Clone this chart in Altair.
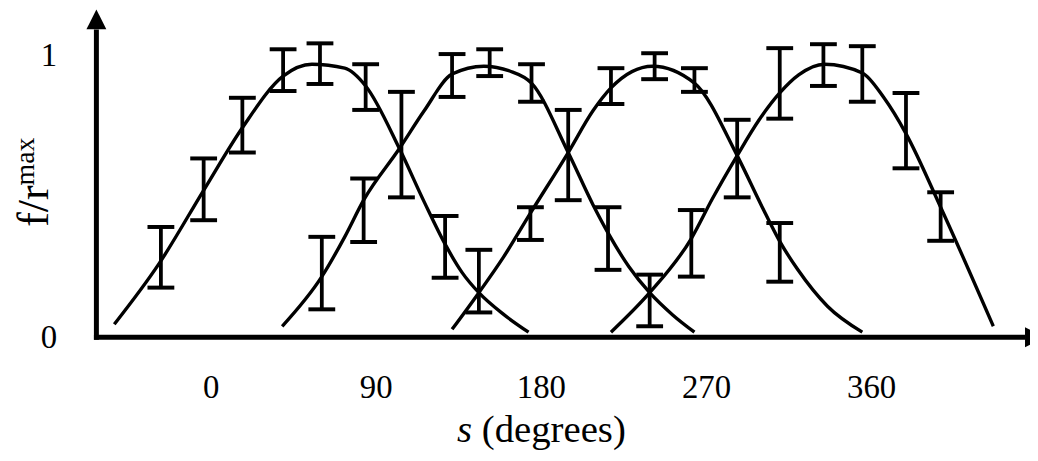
import altair as alt
import pandas as pd

# ---- tuning curves (s in degrees, f / r_max) ----
c1_s = [-52.5, -28.2, -3.8, 17.3, 39.5, 55.2, 73.1, 84.5, 102.9, 116.4, 127.8, 137.0, 146.2, 159.7, 173.3]
c1_r = [0.046, 0.260, 0.521, 0.743, 0.926, 0.968, 0.954, 0.891, 0.669, 0.480, 0.330, 0.230, 0.158, 0.081, 0.018]

c2_s = [39.0, 60.6, 73.1, 83.4, 102.9, 116.4, 131.6, 148.9, 163.0, 174.9, 194.9, 208.4, 216.6, 228.0, 239.3, 251.7, 263.7]
c2_r = [0.039, 0.215, 0.356, 0.486, 0.669, 0.803, 0.933, 0.961, 0.944, 0.901, 0.655, 0.470, 0.370, 0.250, 0.158, 0.080, 0.018]

c3_s = [131.6, 146.2, 159.7, 174.3, 194.9, 208.4, 218.2, 240.9, 263.7, 287.0, 300.0, 310.2, 320.0, 336.2, 355.2]
c3_r = [0.028, 0.158, 0.285, 0.440, 0.655, 0.803, 0.884, 0.961, 0.901, 0.644, 0.470, 0.340, 0.240, 0.110, 0.018]

c4_s = [218.2, 239.3, 262.0, 273.4, 287.0, 298.9, 310.2, 320.5, 334.6, 355.2, 367.0, 379.0, 397.9, 426.6]
c4_r = [0.018, 0.158, 0.350, 0.490, 0.644, 0.770, 0.866, 0.930, 0.968, 0.937, 0.849, 0.722, 0.461, 0.039]

# ---- error bars (s, low, high) ----
eb_s = [-27.1, -3.8, 17.3, 39.5, 59.6, 84.5, 104.0, 127.8, 146.2,
        60.6, 83.4, 131.6, 152.1, 174.9, 194.9, 216.6, 239.3,
        174.3, 218.2, 242.0, 263.7, 287.0, 310.2,
        262.0, 310.2, 334.0, 355.2, 379.0, 397.9]
eb_hi = [0.391, 0.634, 0.849, 1.021, 1.042, 0.968, 0.870, 0.430, 0.310,
         0.356, 0.563, 1.004, 1.021, 0.968, 0.806, 0.461, 0.222,
         0.461, 0.954, 1.007, 0.954, 0.771, 0.405,
         0.451, 1.025, 1.039, 1.032, 0.866, 0.514]
eb_lo = [0.176, 0.415, 0.655, 0.873, 0.898, 0.806, 0.496, 0.211, 0.088,
         0.099, 0.338, 0.852, 0.926, 0.835, 0.486, 0.239, 0.039,
         0.345, 0.827, 0.915, 0.870, 0.496, 0.197,
         0.215, 0.775, 0.891, 0.835, 0.599, 0.342]

x_ticks = [0, 90, 180, 270, 360]
y_ticks = [0, 1]
x_title_var = "s"
x_title_rest = "(degrees)"
y_title_main = "f/r"
y_title_sup = "max"

# axis frame (data units)
X_LEFT = -62.26
X_RIGHT = 446.6
Y_TOP = 1.162
FONT = "Liberation Serif"
INK = "#000000"

curves = pd.concat([
    pd.DataFrame({"s": c1_s, "r": c1_r, "curve": "c1"}),
    pd.DataFrame({"s": c2_s, "r": c2_r, "curve": "c2"}),
    pd.DataFrame({"s": c3_s, "r": c3_r, "curve": "c3"}),
    pd.DataFrame({"s": c4_s, "r": c4_r, "curve": "c4"}),
], ignore_index=True)
bars = pd.DataFrame({"s": eb_s, "lo": eb_lo, "hi": eb_hi})

xs = alt.Scale(domain=[X_LEFT, X_RIGHT], nice=False, zero=False)
ys = alt.Scale(domain=[0, Y_TOP], nice=False, zero=False)

x_axis = alt.Axis(values=x_ticks, domain=False, ticks=False, grid=False, title=None,
                  labelFont=FONT, labelFontSize=33, labelColor=INK, labelPadding=35,
                  labelFlush=False, format="d")
y_axis = alt.Axis(values=y_ticks, domain=False, ticks=False, grid=False, title=None,
                  labelFont=FONT, labelFontSize=33, labelColor=INK, labelPadding=40,
                  format="d")

lines = alt.Chart(curves).mark_line(color=INK, strokeWidth=3.4, interpolate="monotone").encode(
    x=alt.X("s:Q", scale=xs, axis=x_axis),
    y=alt.Y("r:Q", scale=ys, axis=y_axis),
    detail="curve:N",
)

stems = alt.Chart(bars).mark_rule(color=INK, strokeWidth=3.8).encode(
    x=alt.X("s:Q", scale=xs), y=alt.Y("lo:Q", scale=ys), y2="hi:Q")
caps_hi = alt.Chart(bars).mark_tick(color=INK, orient="horizontal", size=27, thickness=4, opacity=1).encode(
    x=alt.X("s:Q", scale=xs), y=alt.Y("hi:Q", scale=ys))
caps_lo = alt.Chart(bars).mark_tick(color=INK, orient="horizontal", size=27, thickness=4, opacity=1).encode(
    x=alt.X("s:Q", scale=xs), y=alt.Y("lo:Q", scale=ys))

# axis lines with arrowheads
yline = alt.Chart(pd.DataFrame({"s": [X_LEFT], "a": [-0.009], "b": [1.0915]})).mark_rule(
    color=INK, strokeWidth=5).encode(x=alt.X("s:Q", scale=xs), y=alt.Y("a:Q", scale=ys), y2="b:Q")
xline = alt.Chart(pd.DataFrame({"a": [-63.6], "b": [443.9], "r": [0.0]})).mark_rule(
    color=INK, strokeWidth=5).encode(x=alt.X("a:Q", scale=xs), x2="b:Q", y=alt.Y("r:Q", scale=ys))
yarrow = alt.Chart(pd.DataFrame({"s": [X_LEFT], "r": [1.127]})).mark_point(
    shape="M0,-1L1,1L-1,1Z", size=400, filled=True, color=INK, opacity=1).encode(
    x=alt.X("s:Q", scale=xs), y=alt.Y("r:Q", scale=ys))
xarrow = alt.Chart(pd.DataFrame({"s": [449.3], "r": [0.0]})).mark_point(
    shape="M1,0L-1,-1L-1,1Z", size=400, filled=True, color=INK, opacity=1).encode(
    x=alt.X("s:Q", scale=xs), y=alt.Y("r:Q", scale=ys))

# axis titles
t_s = alt.Chart(pd.DataFrame({"t": [x_title_var]})).mark_text(
    font=FONT, fontSize=39, fontStyle="italic", align="left", baseline="alphabetic", color=INK).encode(
    x=alt.value(363), y=alt.value(435), text="t:N")
t_rest = alt.Chart(pd.DataFrame({"t": [x_title_rest]})).mark_text(
    font=FONT, fontSize=39, align="left", baseline="alphabetic", color=INK).encode(
    x=alt.value(388), y=alt.value(435), text="t:N")
t_f = alt.Chart(pd.DataFrame({"t": [y_title_main]})).mark_text(
    font=FONT, fontSize=44, angle=270, align="center", baseline="alphabetic", color=INK).encode(
    x=alt.value(-49), y=alt.value(198), text="t:N")
t_max = alt.Chart(pd.DataFrame({"t": [y_title_sup]})).mark_text(
    font=FONT, fontSize=28, angle=270, align="center", baseline="alphabetic", color=INK).encode(
    x=alt.value(-63), y=alt.value(153), text="t:N")

chart = alt.layer(lines, stems, caps_hi, caps_lo, yline, xline, yarrow, xarrow,
                  t_s, t_rest, t_f, t_max).properties(
    width=940, height=330, autosize="none",
    padding={"left": 89, "top": 0, "right": 0, "bottom": 113},
    background="white",
).configure_view(stroke=None)

chart.save("out.html", embed_options={"renderer": "svg", "actions": False})
